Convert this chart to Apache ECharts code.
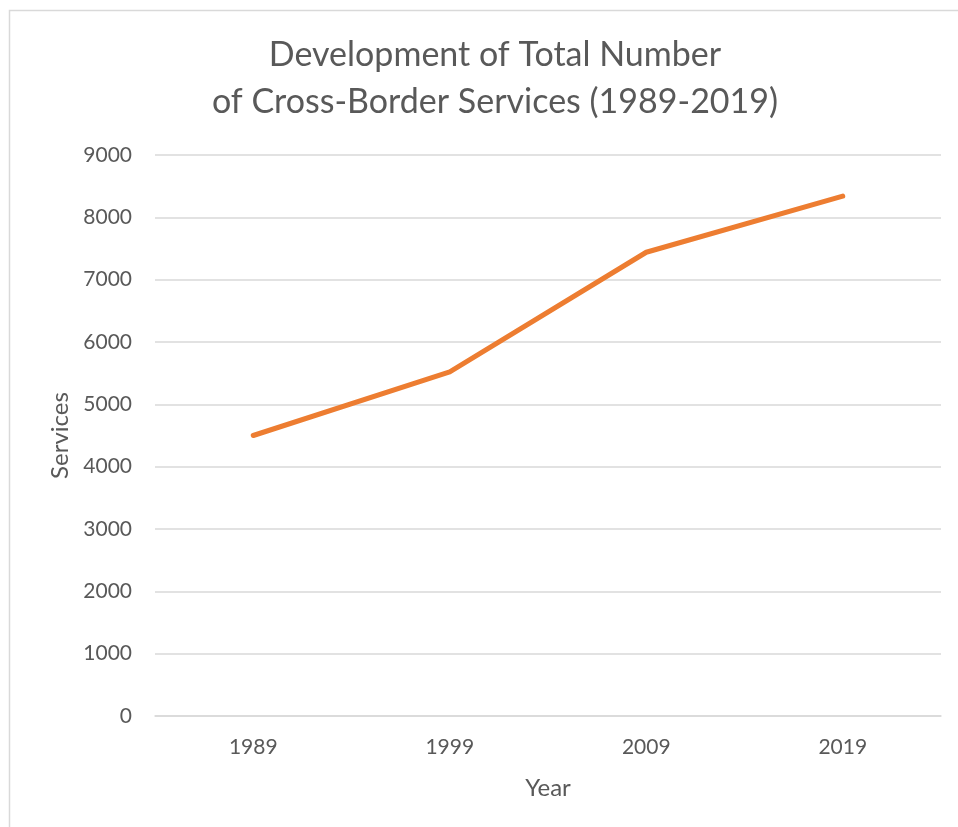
<!DOCTYPE html>
<html>
<head>
<meta charset="utf-8">
<script src="https://cdn.jsdelivr.net/npm/echarts@6/dist/echarts.min.js"></script>
<style>
  html, body { margin: 0; padding: 0; background: #fff; }
  #chart { width: 958px; height: 827px; }
</style>
</head>
<body>
<div id="chart"></div>
<script>
// Years on the horizontal axis
const years = ['1989', '1999', '2009', '2019'];
// Total number of cross-border services per year
const services = [4500, 5520, 7440, 8340];
// Vertical axis range
const yMin = 0;
const yMax = 9000;
const yStep = 1000;

const titleText = 'Development of Total Number\nof Cross-Border Services (1989-2019)';
const textColor = '#595959';
const gridColor = '#d9d9d9';
const fontFamily = 'Lato, "Open Sans", sans-serif';

const chart = echarts.init(document.getElementById('chart'));
chart.setOption({
  backgroundColor: '#fff',
  animation: false,
  graphic: [{
    type: 'rect',
    shape: { x: 9.5, y: 10.5, width: 1000, height: 1000 },
    style: { fill: 'none', stroke: gridColor, lineWidth: 1.5 },
    silent: true
  }],
  title: {
    text: titleText,
    left: 490,
    top: 27,
    textAlign: 'center',
    textStyle: {
      color: textColor,
      fontSize: 34,
      fontWeight: 'normal',
      fontFamily: fontFamily,
      lineHeight: 47
    }
  },
  grid: { left: 155, right: 17, top: 155, bottom: 111, containLabel: false },
  xAxis: {
    type: 'category',
    data: years,
    boundaryGap: true,
    name: 'Year',
    nameLocation: 'middle',
    nameGap: 60,
    nameTextStyle: { color: textColor, fontSize: 24, fontFamily: fontFamily },
    axisLine: { show: true, lineStyle: { color: gridColor, width: 1.5 } },
    axisTick: { show: false },
    axisLabel: { color: textColor, fontSize: 21, fontFamily: fontFamily, margin: 21 }
  },
  yAxis: {
    type: 'value',
    min: yMin,
    max: yMax,
    interval: yStep,
    name: 'Services',
    nameLocation: 'middle',
    nameGap: 83,
    nameTextStyle: { color: textColor, fontSize: 24, fontFamily: fontFamily },
    axisLine: { show: false },
    axisTick: { show: false },
    axisLabel: {
      color: textColor, fontSize: 21, fontFamily: fontFamily, margin: 23,
      formatter: (v) => String(v)
    },
    splitLine: { lineStyle: { color: gridColor, width: 1.5 } }
  },
  series: [{
    type: 'line',
    data: services,
    symbol: 'none',
    lineStyle: { color: '#ED7D31', width: 5, cap: 'round', join: 'round' },
    itemStyle: { color: '#ED7D31' }
  }]
});
</script>
</body>
</html>
